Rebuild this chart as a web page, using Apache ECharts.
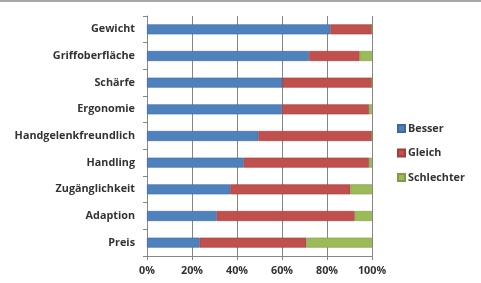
<!DOCTYPE html>
<html>
<head>
<meta charset="utf-8">
<script src="https://cdn.jsdelivr.net/npm/echarts@6/dist/echarts.min.js"></script>
<style>
  html, body { margin: 0; padding: 0; background: #fff; }
  #chart { width: 481px; height: 283px; border-top: 2px solid #a6a6a6; box-sizing: border-box; }
</style>
</head>
<body>
<div id="chart"></div>
<script>
let categories = ["Preis", "Adaption", "Zugänglichkeit", "Handling", "Handgelenkfreundlich",
    "Ergonomie", "Schärfe", "Griffoberfläche", "Gewicht"];
let besser = [23.4, 31, 37, 43, 49.5, 60, 60.2, 72, 81.5];
let gleich = [47.4, 61.3, 53.4, 55.7, 50.5, 38.7, 39.8, 22.5, 18.5];
let schlechter = [29.2, 7.7, 9.6, 1.3, 0, 1.3, 0, 5.5, 0];
let xTicks = [0, 20, 40, 60, 80, 100];

let color = ["#4F81BD", "#C0504D", "#9BBB59"];
let border = ["#3c6aa0", "#a03e3b", "#7f9c45"];
let labelFont = {
    color: "#333333",
    fontFamily: "Open Sans",
    fontWeight: "bold",
    fontSize: 10.8
};

function bar(name, data, i) {
    return {
        name: name,
        type: "bar",
        stack: "total",
        barWidth: 10,
        data: data,
        itemStyle: {
            color: color[i],
            borderColor: border[i],
            borderWidth: 0.6
        }
    };
}

let option = {
    animation: false,
    color: color,
    grid: {
        left: 147,
        right: 109,
        top: 14,
        bottom: 27,
        containLabel: false
    },
    legend: {
        orient: "vertical",
        left: 392,
        top: 116,
        itemWidth: 7,
        itemHeight: 7,
        itemGap: 13.5,
        icon: "rect",
        textStyle: Object.assign({}, labelFont, { padding: [0, 0, 0, -2] }),
        data: ["Besser", "Gleich", "Schlechter"]
    },
    xAxis: {
        type: "value",
        min: 0,
        max: 100,
        interval: 20,
        axisLabel: Object.assign({}, labelFont, {
            margin: 9,
            formatter: function (v) { return xTicks.indexOf(v) >= 0 ? v + "%" : ""; }
        }),
        axisLine: { show: true, lineStyle: { color: "#868686", width: 1 } },
        axisTick: { show: true, length: 4, lineStyle: { color: "#868686" } },
        splitLine: { show: true, lineStyle: { color: "#868686", width: 1 } }
    },
    yAxis: {
        type: "category",
        data: categories,
        axisLabel: Object.assign({}, labelFont, { margin: 12 }),
        axisLine: { show: true, lineStyle: { color: "#868686", width: 1 } },
        axisTick: { show: true, length: 4, lineStyle: { color: "#868686" } },
        splitLine: { show: false }
    },
    series: [
        bar("Besser", besser, 0),
        bar("Gleich", gleich, 1),
        bar("Schlechter", schlechter, 2)
    ]
};

let myChart = echarts.init(document.getElementById("chart"));
myChart.setOption(option);
window.addEventListener("resize", function () {
    myChart.resize();
});
</script>
</body>
</html>
